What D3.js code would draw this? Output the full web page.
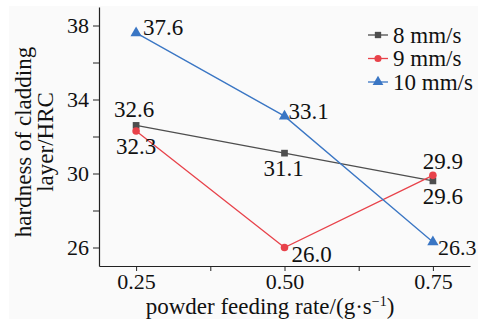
<!DOCTYPE html>
<html>
<head>
<meta charset="utf-8">
<script src="https://cdn.jsdelivr.net/npm/d3@7"></script>
<style>
  body { margin: 0; background: #fff; }
  svg text { font-family: "Liberation Serif", "Times New Roman", Times, serif !important; fill: #111; }
</style>
</head>
<body>
<div id="vis"></div>
<script>
// frame
const FRAME_WIDTH = 479;
const FRAME_HEIGHT = 322;
const MARGINS = {left: 99, right: 9, top: 7, bottom: 56};
const VIS_WIDTH = FRAME_WIDTH - MARGINS.left - MARGINS.right;
const VIS_HEIGHT = FRAME_HEIGHT - MARGINS.top - MARGINS.bottom;

// data
const rates = [0.25, 0.50, 0.75];
const series_names = ['8 mm/s', '9 mm/s', '10 mm/s'];
const hard_8 = [32.6, 31.1, 29.6];
const hard_9 = [32.3, 26.0, 29.9];
const hard_10 = [37.6, 33.1, 26.3];
const x_ticks = [0.25, 0.50, 0.75];
const y_ticks = [26, 30, 34, 38];
const colors = ['#4e4e4e', '#e8424a', '#3a76c4'];
const symbols = [d3.symbolSquare, d3.symbolCircle, d3.symbolTriangle];

const series = [hard_8, hard_9, hard_10].map((vals, i) => ({
  name: series_names[i],
  color: colors[i],
  symbol: symbols[i],
  points: vals.map((v, j) => ({x: rates[j], y: v}))
}));

const svg = d3.select('#vis').append('svg')
  .attr('width', FRAME_WIDTH)
  .attr('height', FRAME_HEIGHT);

// light gray canvas
svg.append('rect')
  .attr('x', 9).attr('y', 6)
  .attr('width', 469).attr('height', 313)
  .attr('fill', '#fafafa');

const xscale = d3.scaleLinear().domain([0.1875, 0.8125]).range([0, VIS_WIDTH]);
const yscale = d3.scaleLinear().domain([25, 39]).range([VIS_HEIGHT, 0]);

const g = svg.append('g')
  .attr('transform', 'translate(' + MARGINS.left + ',' + MARGINS.top + ')');

// axes
const xaxis = g.append('g')
  .attr('transform', 'translate(0,' + VIS_HEIGHT + ')')
  .call(d3.axisBottom(xscale).tickValues(x_ticks).tickFormat(d3.format('.2f')).tickSize(5).tickSizeOuter(0));
g.append('g')
  .attr('transform', 'translate(0,' + VIS_HEIGHT + ')')
  .call(d3.axisBottom(xscale).tickValues([0.375, 0.625]).tickFormat('').tickSize(5).tickSizeOuter(0))
  .select('.domain').remove();

const yaxis = g.append('g')
  .call(d3.axisLeft(yscale).tickValues(y_ticks).tickSize(6).tickSizeOuter(0));
g.append('g')
  .call(d3.axisLeft(yscale).tickValues([28, 32, 36]).tickFormat('').tickSize(6).tickSizeOuter(0))
  .select('.domain').remove();

g.selectAll('.domain').attr('stroke', '#222').attr('stroke-width', 1.2);
g.selectAll('.tick line').attr('stroke', '#222');
xaxis.selectAll('.tick text')
  .attr('font-size', '22px').attr('y', 7).attr('dy', '0.71em');
yaxis.selectAll('.tick text')
  .attr('font-size', '22px').attr('x', -10);

// lines and markers
const line = d3.line().x((d) => xscale(d.x)).y((d) => yscale(d.y));

series.forEach((s) => {
  g.append('path')
    .datum(s.points)
    .attr('fill', 'none')
    .attr('stroke', s.color)
    .attr('stroke-width', 1.3)
    .attr('d', line);
  g.selectAll(null)
    .data(s.points)
    .enter().append('path')
    .attr('d', d3.symbol().type(s.symbol).size(s.symbol === d3.symbolTriangle ? 55 : 45))
    .attr('transform', (d) => 'translate(' + xscale(d.x) + ',' + yscale(d.y) + ')')
    .attr('fill', s.color);
});

// value labels: [series, point, dx, dy, anchor]
const label_pos = [
  [0, 0, -2, -8, 'middle'], [0, 1, -1, 23, 'middle'], [0, 2, 10, 23, 'middle'],
  [1, 0, 0, 23, 'middle'], [1, 1, 7, 14, 'start'], [1, 2, 10, -6, 'middle'],
  [2, 0, 7, 2, 'start'], [2, 1, 4, 3, 'start'], [2, 2, 5, 13, 'start']
];
label_pos.forEach(([si, pi, dx, dy, anchor]) => {
  const p = series[si].points[pi];
  g.append('text')
    .attr('x', xscale(p.x) + dx)
    .attr('y', yscale(p.y) + dy)
    .attr('text-anchor', anchor)
    .attr('font-size', si === 2 && pi === 2 ? '22px' : '23px')
    .text(p.y.toFixed(1));
});

// legend
const legend = g.append('g').attr('transform', 'translate(269,28)');
series.forEach((s, i) => {
  const row = legend.append('g').attr('transform', 'translate(0,' + (i * 23.5) + ')');
  row.append('line').attr('x1', 0).attr('x2', 20).attr('stroke', s.color).attr('stroke-width', 1.3);
  row.append('path')
    .attr('d', d3.symbol().type(s.symbol).size(s.symbol === d3.symbolTriangle ? 50 : 40))
    .attr('transform', 'translate(10,0)')
    .attr('fill', s.color);
  row.append('text')
    .attr('x', 25).attr('y', 0).attr('dy', '0.33em')
    .attr('font-size', '23px')
    .text(s.name);
});

// axis titles
svg.append('text')
  .attr('x', 270).attr('y', 314)
  .attr('text-anchor', 'middle')
  .attr('font-size', '23px')
  .html('powder feeding rate/(g·s<tspan dy="-8" font-size="14px">−1</tspan><tspan dy="8">)</tspan>');

const ytitle = svg.append('text')
  .attr('transform', 'translate(0,142) rotate(-90)')
  .attr('text-anchor', 'middle')
  .attr('font-size', '23px');
ytitle.append('tspan').attr('x', 0).attr('y', 31).text('hardness of cladding');
ytitle.append('tspan').attr('x', 0).attr('y', 53).text('layer/HRC');
</script>
</body>
</html>
